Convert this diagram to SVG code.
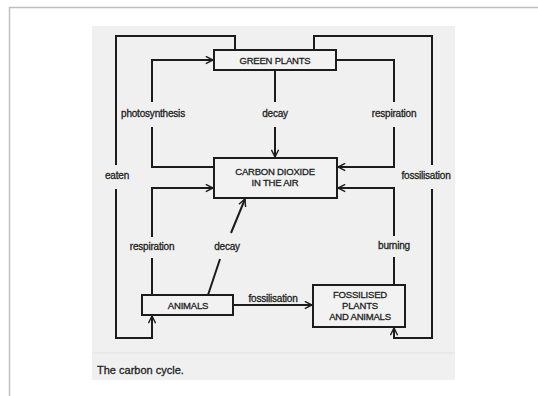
<svg xmlns="http://www.w3.org/2000/svg" width="538" height="396" viewBox="0 0 538 396">
<style>
.ln{fill:none;stroke:#1c1c1c;stroke-width:2;stroke-linejoin:miter}
.bx{fill:#f2f2f2;stroke:#1c1c1c;stroke-width:2}
.t{font-family:"Liberation Sans",Arial,sans-serif;fill:#222;stroke:#222;stroke-width:0.3;text-anchor:middle}
.c{font-size:9.5px;letter-spacing:-0.2px}
.l{font-size:10px;letter-spacing:-0.2px}
</style>
<defs>
<marker id="ah" viewBox="0 0 10 10" refX="9" refY="5" markerWidth="9" markerHeight="9" markerUnits="userSpaceOnUse" orient="auto">
<path d="M1,1 L9,5 L1,9" fill="none" stroke="#1c1c1c" stroke-width="1.6"/>
</marker>
</defs>
<rect x="0" y="0" width="538" height="396" fill="#fff"/>
<path d="M9.5,396 V7.5 H538" fill="none" stroke="#c0c0c0" stroke-width="1.5"/>
<rect x="92" y="26" width="363" height="354" fill="#f0f0f0"/>
<line x1="92" y1="353" x2="455" y2="353" stroke="#e2e2e2" stroke-width="1"/>
<g id="connectors">
<path class="ln" d="M235,50 V36 H116 V165 M116,189 V338 H152 V316" marker-end="url(#ah)"/>
<path class="ln" d="M314,50 V36 H432 V165 M432,189 V338 H394 V328" marker-end="url(#ah)"/>
<path class="ln" d="M213,167 H152 V127 M152,102 V60 H213" marker-end="url(#ah)"/>
<path class="ln" d="M275,70 V102 M275,127 V157" marker-end="url(#ah)"/>
<path class="ln" d="M337,60 H394 V102 M394,127 V167 H338" marker-end="url(#ah)"/>
<path class="ln" d="M152,295 V258 M152,237 V188 H213" marker-end="url(#ah)"/>
<path class="ln" d="M208,295 L220,259 M231,233 L245,199" marker-end="url(#ah)"/>
<path class="ln" d="M394,285 V257 M394,236 V188 H338" marker-end="url(#ah)"/>
<path class="ln" d="M233,305 H312" marker-end="url(#ah)"/>
</g>
<g id="green-plants">
<rect class="bx" x="214" y="50" width="122" height="20"/>
<text class="t c" x="275" y="63.5">GREEN PLANTS</text>
</g>
<g id="carbon-dioxide">
<rect class="bx" x="214" y="158" width="123" height="40"/>
<text class="t c" x="275" y="175">CARBON DIOXIDE</text>
<text class="t c" x="275" y="186">IN THE AIR</text>
</g>
<g id="animals">
<rect class="bx" x="142" y="295" width="91" height="20"/>
<text class="t c" x="188" y="308.5">ANIMALS</text>
</g>
<g id="fossilised">
<rect class="bx" x="313" y="285" width="92" height="42"/>
<text class="t c" x="360" y="297.5">FOSSILISED</text>
<text class="t c" x="360" y="308.5">PLANTS</text>
<text class="t c" x="360" y="320">AND ANIMALS</text>
</g>
<g id="labels">
<text class="t l" x="153" y="117">photosynthesis</text>
<text class="t l" x="275" y="117">decay</text>
<text class="t l" x="394" y="117">respiration</text>
<text class="t l" x="117" y="179">eaten</text>
<text class="t l" x="426" y="179">fossilisation</text>
<text class="t l" x="152" y="250">respiration</text>
<text class="t l" x="227" y="250">decay</text>
<text class="t l" x="394" y="249">burning</text>
<text class="t l" x="273" y="302">fossilisation</text>
<text x="97" y="374" font-family="Liberation Sans,Arial,sans-serif" font-size="11" fill="#222" stroke="#222" stroke-width="0.3">The carbon cycle.</text>
</g>
</svg>
